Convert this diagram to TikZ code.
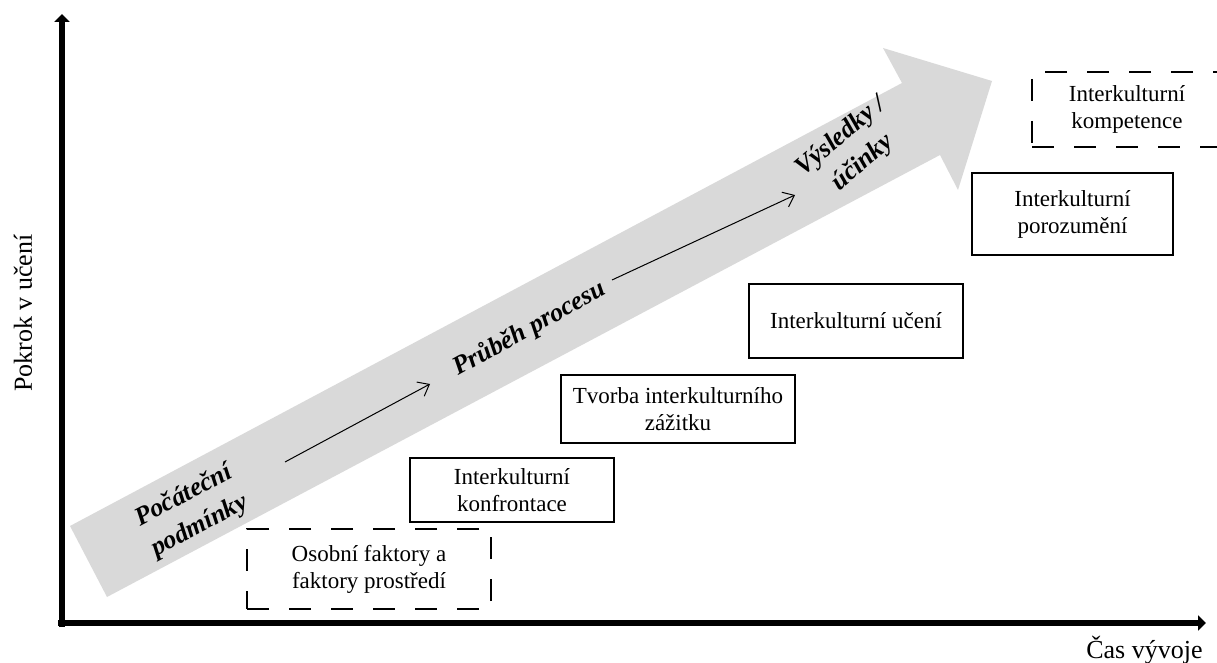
\documentclass[tikz,border=0pt]{standalone}
\usepackage{fontspec}
\setmainfont{Liberation Serif}
\usepackage{tikz}
\usetikzlibrary{arrows.meta}
\definecolor{catSedaSvetla}{HTML}{D9D9D9}
\colorlet{colProces}{catSedaSvetla}

\begin{document}
\begin{tikzpicture}[x=0.5pt, y=-0.5pt,
        ramecek/.style={rectangle, draw=black, line width=1pt, inner sep=0pt, align=center,
            font=\fontsize{11.5}{13.5}\selectfont},
        ramecekCarkovany/.style={ramecek, line width=1.2pt, dash pattern=on 11pt off 10pt},
        osa/.style={line width=3pt, -{Triangle[length=4pt, width=7.5pt]}},
        sipka/.style={line width=0.5pt, -{Straight Barb[length=5pt, width=8pt]}},
        popisek/.style={font=\fontsize{13}{17}\selectfont\bfseries\itshape, align=center, inner sep=0pt},
        osaPopisek/.style={font=\fontsize{13}{15}\selectfont, inner sep=0pt}
    ]
        \useasboundingbox (0,0) rectangle (1217,663);

        % velka sipka procesu
        \fill[colProces] (70,526) -- (902,83) -- (883,48) -- (992,81) -- (958,190)
            -- (940,155) -- (107,597) -- cycle;

        % osy
        \coordinate (pocatek) at (62,623);
        \coordinate (osaY) at (62,14);
        \coordinate (osaX) at (1206,623);
        \draw[osa] ([yshift=-2pt]pocatek) -- (osaY);
        \draw[osa] ([xshift=-2pt]pocatek) -- (osaX);
        \node[osaPopisek, rotate=90] (pokrok) at (23,313) {Pokrok v učení};
        \node[osaPopisek, anchor=base east] (cas) at (1203,658) {Čas vývoje};

        % ramecky
        \node[ramecekCarkovany, minimum width=122pt, minimum height=40pt] (osobni) at (369,569) {Osobní faktory a\\faktory prostředí};
        \node[ramecek, minimum width=102pt, minimum height=32pt] (konfrontace) at (512,490) {Interkulturní\\konfrontace};
        \node[ramecek, minimum width=117pt, minimum height=34pt] (tvorba) at (678,409) {Tvorba interkulturního\\zážitku};
        \node[ramecek, minimum width=107pt, minimum height=37pt] (uceni) at (856,321) {Interkulturní učení};
        \node[ramecek, minimum width=100.5pt, minimum height=41pt] (porozumeni) at (1072.5,214) {Interkulturní\\porozumění};
        \node[ramecekCarkovany, minimum width=95pt, minimum height=37.5pt] (kompetence) at (1127,109.5) {Interkulturní\\kompetence};

        % popisky na sipce
        \node[popisek, rotate=28] (pocatecni) at (192,511) {Počáteční\\podmínky};
        \node[popisek, rotate=29] (prubeh) at (530,329) {Průběh procesu};
        \node[popisek, rotate=40] (vysledky) at (852,150) {Výsledky /\\účinky};

        \coordinate (s1zac) at (285,462);
        \coordinate (s1kon) at (430,384);
        \coordinate (s2zac) at (612,280);
        \coordinate (s2kon) at (795,195);
        \draw[sipka] (s1zac) -- (s1kon);
        \draw[sipka] (s2zac) -- (s2kon);
    \end{tikzpicture}
\end{document}
